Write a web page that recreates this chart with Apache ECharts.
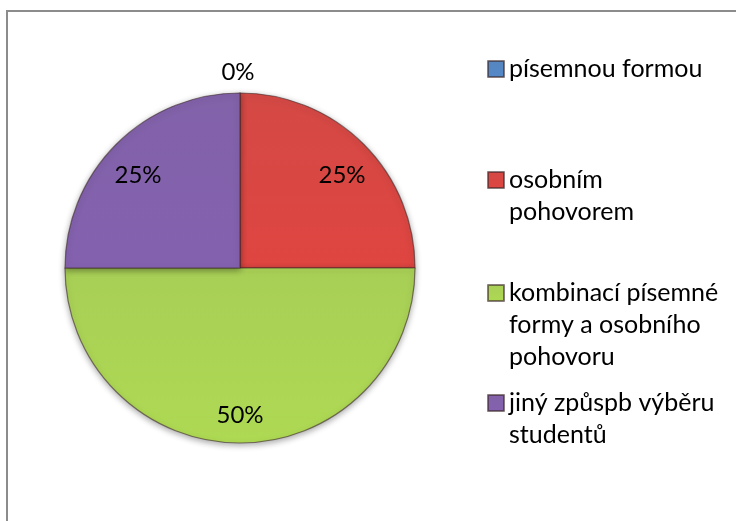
<!DOCTYPE html>
<html>
<head>
<meta charset="utf-8">
<script src="https://cdn.jsdelivr.net/npm/echarts@6/dist/echarts.min.js"></script>
<style>
html,body{margin:0;padding:0;background:#fff;}
#c{width:736px;height:521px;}
</style>
</head>
<body>
<div id="c"></div>
<script>
// Data
const categories = ['písemnou formou', 'osobním pohovorem', 'kombinací písemné formy a osobního pohovoru', 'jiný způspb výběru studentů'];
const legendLines = ['písemnou formou', 'osobním\npohovorem', 'kombinací písemné\nformy a osobního\npohovoru', 'jiný způspb výběru\nstudentů'];
const values = [0, 25, 50, 25];
const percentLabels = ['0%', '25%', '50%', '25%'];

// Styles (not data)
const colors = ['#4F81BD', '#D3423E', '#A5CD4F', '#7D5CA6'];
const labelOffsets = [[-2, -105], [38, -29], [0, 57], [-38, -29]];
const iconCenters = [69, 180, 293, 403];
const lineH = 32;
const FONT = 'Lato';
const FS = 25;

const chart = echarts.init(document.getElementById('c'));

const legends = categories.map((name, i) => {
  const lines = legendLines[i].split('\n');
  const n = lines.length;
  // pad with empty lines above so the first line sits level with the icon
  const txt = new Array(n - 1).fill('').concat(lines).join('\n');
  return {
    orient: 'vertical',
    left: 487,
    top: iconCenters[i] - (2 * n - 1) * lineH / 2,
    padding: 0,
    itemWidth: 16,
    itemHeight: 16,
    itemGap: 0,
    selectedMode: false,
    icon: 'rect',
    data: [{ name: name }],
    formatter: () => txt,
    textStyle: {
      fontFamily: FONT,
      fontSize: FS,
      color: '#000',
      lineHeight: lineH
    }
  };
});

const pieData = categories.map((name, i) => ({
  name: name,
  value: values[i],
  itemStyle: {
    color: {
      type: 'linear', x: 0, y: 0, x2: 0, y2: 1,
      colorStops: [
        { offset: 0, color: echarts.color.lift(colors[i], 0.04) },
        { offset: 1, color: echarts.color.lift(colors[i], -0.06) }
      ]
    }
  },
  label: { offset: labelOffsets[i], formatter: percentLabels[i] }
}));

chart.setOption({
  animation: false,
  backgroundColor: '#fff',
  color: colors,
  graphic: [{
    type: 'rect',
    shape: { x: 7, y: 11, width: 760, height: 560 },
    style: { fill: 'none', stroke: '#8C8C8C', lineWidth: 2 },
    silent: true
  }],
  legend: legends,
  series: [{
    type: 'pie',
    center: [240, 268],
    radius: 175,
    startAngle: 90,
    clockwise: true,
    minAngle: 0,
    avoidLabelOverlap: false,
    data: pieData,
    itemStyle: {
      borderColor: 'rgba(60,40,40,0.6)',
      borderWidth: 1.2,
      shadowBlur: 6,
      shadowColor: 'rgba(0,0,0,0.35)',
      shadowOffsetY: 2
    },
    label: {
      show: true,
      position: 'inside',
      fontFamily: FONT,
      fontSize: 24,
      color: '#000'
    },
    labelLine: { show: false },
    emphasis: { disabled: true }
  }]
});
</script>
</body>
</html>
